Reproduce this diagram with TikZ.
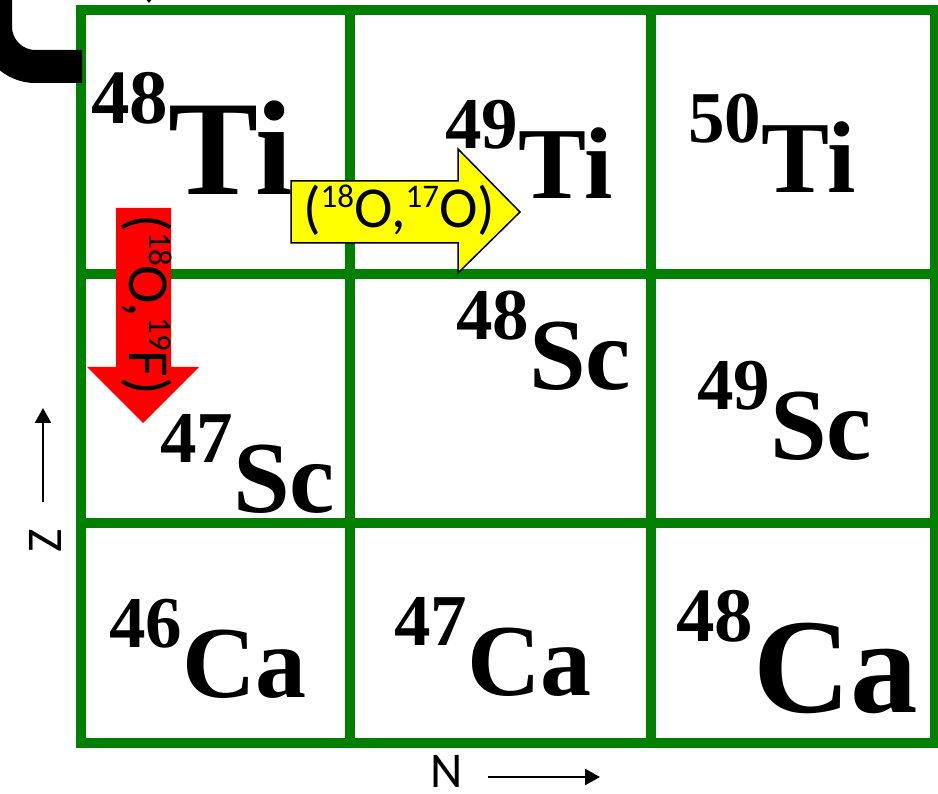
\documentclass[tikz,border=0pt]{standalone}
\usepackage{fontspec}
\setmainfont{Liberation Serif}
\newfontfamily\labelfont{Carlito}
\usetikzlibrary{arrows.meta}
\definecolor{ChartGreen}{HTML}{008000}
\definecolor{ArrowYellow}{HTML}{FFFF00}
\definecolor{ArrowRed}{HTML}{FF0000}

\newcommand{\nuc}[2]{\raisebox{50pt}{\fontsize{73}{73}\selectfont #1}\fontsize{102}{102}\selectfont #2}
\newcommand{\nucbig}[2]{\raisebox{71pt}{\fontsize{77}{77}\selectfont #1}\fontsize{135}{135}\selectfont #2}
\newcommand{\iso}[1]{\raisebox{20pt}{\fontsize{33}{33}\selectfont #1}}

\begin{document}
\begin{tikzpicture}[x=1pt, y=-1pt,
    gridline/.style={draw=ChartGreen, line width=10pt},
    nuclide/.style={anchor=base west, inner sep=0pt, font=\bfseries},
    reaction/.style={anchor=base, inner sep=0pt, font=\labelfont\fontsize{58}{58}\selectfont},
    axislabel/.style={inner sep=0pt, font=\labelfont\fontsize{50}{50}\selectfont},
    axisarr/.style={-{Triangle[width=16pt,length=15pt]}, line width=2.5pt}
  ]
  \useasboundingbox (0,0) rectangle (938,794);

  % chart grid
  \draw[gridline] (81,10) rectangle (935,743);
  \foreach \x in {350,651} \draw[gridline] (\x,10) -- (\x,743);
  \foreach \y in {274,523} \draw[gridline] (81,\y) -- (935,\y);

  % bracket at the top left
  \draw[line width=33pt, rounded corners=40pt] (-4.5,-30) -- (-4.5,66.5) -- (82,66.5);
  \draw[-{Triangle[width=6pt,length=4pt]}, line width=1pt] (149,-20) -- (149,3);

  % nuclides
  \node[nuclide] (ti48) at (91,195) {\nucbig{48}{Ti}};
  \node[nuclide] (ti49) at (445,199) {\nuc{49}{Ti}};
  \node[nuclide] (ti50) at (688,193) {\nuc{50}{Ti}};
  \node[nuclide] (sc47) at (160,512) {\nuc{47}{Sc}};
  \node[nuclide] (sc48) at (456,390) {\nuc{48}{Sc}};
  \node[nuclide] (sc49) at (697,460) {\nuc{49}{Sc}};
  \node[nuclide] (ca46) at (109,697) {\nuc{46}{Ca}};
  \node[nuclide] (ca47) at (394,695) {\nuc{47}{Ca}};
  \node[nuclide] (ca48) at (676,712) {\nucbig{48}{Ca}};

  % transfer arrows
  \draw[fill=ArrowYellow, line width=1.5pt, line join=miter]
    (291,181) -- (458,181) -- (458,149) -- (520,212) -- (458,273) -- (458,243) -- (291,243) -- cycle;
  \node[reaction] (pickup) at (399,228) {(\iso{18}O,\iso{17}O)};
  \fill[ArrowRed]
    (116,208) -- (171,208) -- (171,367) -- (199,367) -- (143,423) -- (87,367) -- (116,367) -- cycle;
  \node[reaction, rotate=-90] (chex) at (129,305) {(\iso{18}O,\iso{19}F)};

  % axes
  \node[axislabel] (nlab) at (447,771) {N};
  \coordinate (nstart) at (488,777);
  \coordinate (nend) at (600,777);
  \draw[axisarr] (nstart) -- (nend);
  \node[axislabel, rotate=90] (zlab) at (45,541) {Z};
  \coordinate (zstart) at (43,502);
  \coordinate (zend) at (43,408);
  \draw[axisarr] (zstart) -- (zend);
\end{tikzpicture}
\end{document}
